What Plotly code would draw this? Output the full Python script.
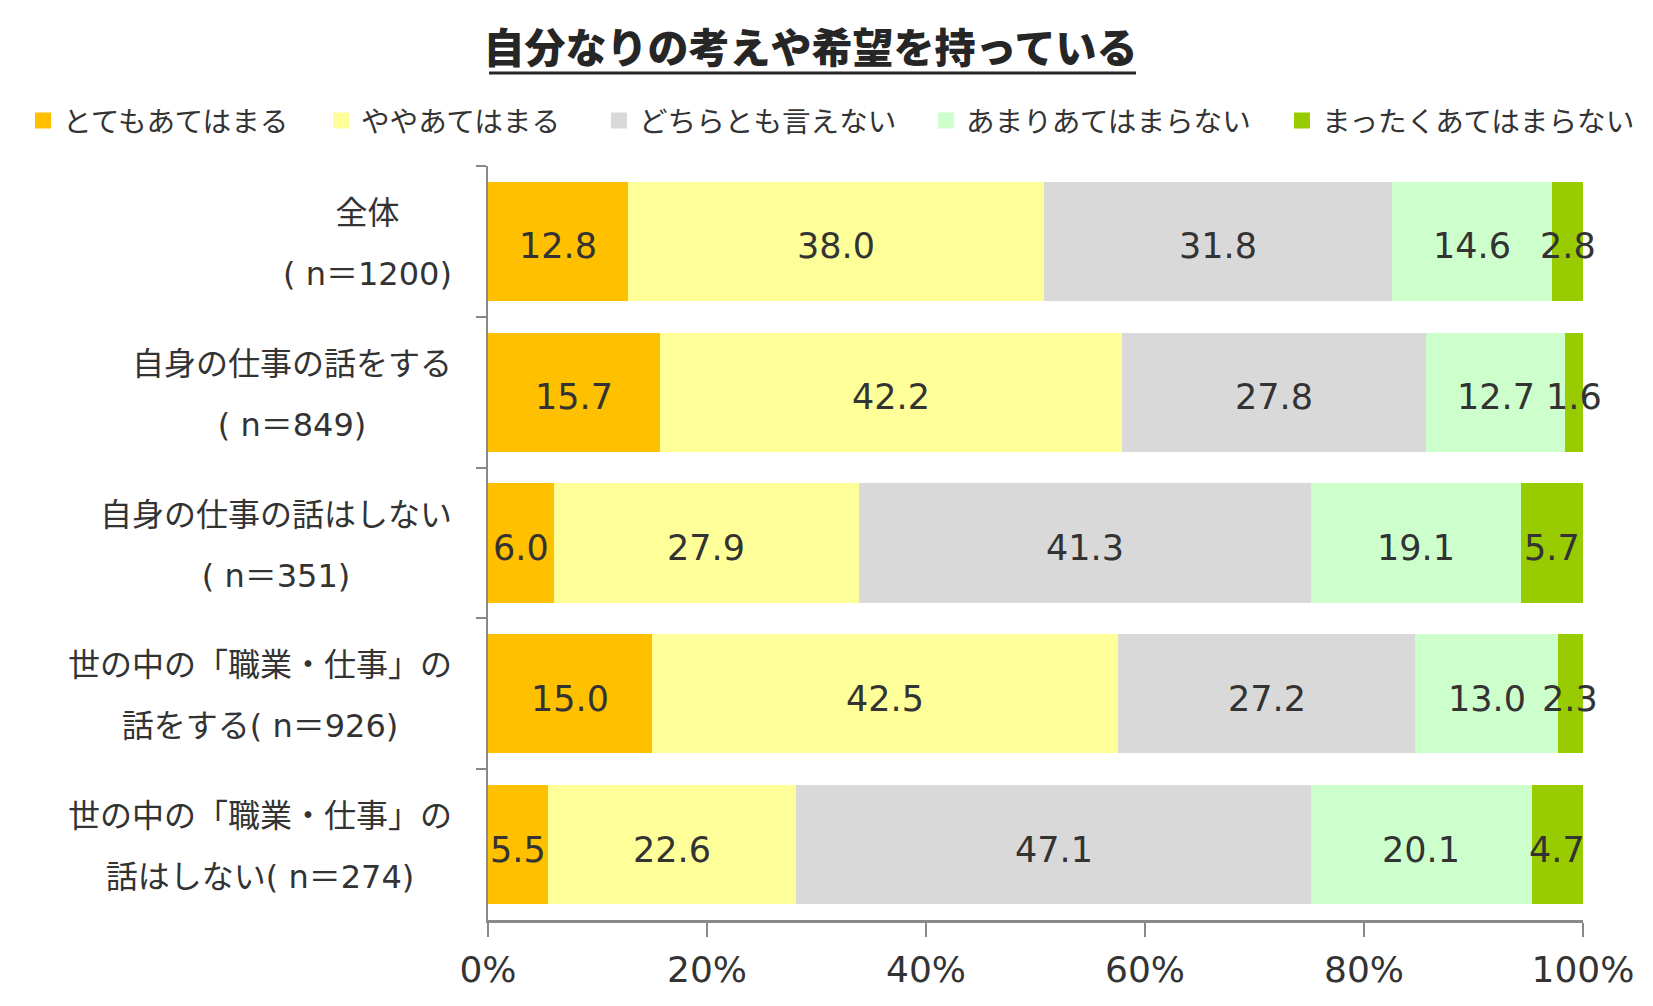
import numpy as np
import plotly.graph_objects as go

categories = [
    "全体<br>( n＝1200)",
    "自身の仕事の話をする<br>( n＝849)",
    "自身の仕事の話はしない<br>( n＝351)",
    "世の中の「職業・仕事」の<br>話をする( n＝926)",
    "世の中の「職業・仕事」の<br>話はしない( n＝274)",
]
series_names = ["とてもあてはまる", "ややあてはまる", "どちらとも言えない", "あまりあてはまらない", "まったくあてはまらない"]
very_true = [12.8, 15.7, 6.0, 15.0, 5.5]
somewhat_true = [38.0, 42.2, 27.9, 42.5, 22.6]
neutral = [31.8, 27.8, 41.3, 27.2, 47.1]
not_really = [14.6, 12.7, 19.1, 13.0, 20.1]
not_at_all = [2.8, 1.6, 5.7, 2.3, 4.7]
tick_values = [0, 20, 40, 60, 80, 100]
tick_labels = ["0%", "20%", "40%", "60%", "80%", "100%"]

colors = ["#FFC000", "#FFFF99", "#D9D9D9", "#CCFFCC", "#99CC00"]
series_values = [very_true, somewhat_true, neutral, not_really, not_at_all]

FONT = "DejaVu Sans, Noto Sans CJK JP, sans-serif"
JP = "Noto Sans CJK JP, sans-serif"
TXT = "#333333"

cat_keys = [c.replace("<br>", " ") for c in categories]

L, R, T, B = 480, 78, 158, 94
W, H = 1653, 1006
PW, PH = W - L - R, H - T - B

fig = go.Figure()
for name, vals, col in zip(series_names, series_values, colors):
    fig.add_trace(go.Bar(
        x=vals, y=cat_keys, orientation="h", name=name,
        marker=dict(color=col, line=dict(width=0)),
        showlegend=False, hoverinfo="skip",
    ))

# legend entries (one small legend per entry so they sit in one row)
legend_x_px = [15, 313, 591, 918, 1274]
legend_layouts = {}
for i, (name, col) in enumerate(zip(series_names, colors)):
    lg = "legend" if i == 0 else f"legend{i + 1}"
    fig.add_trace(go.Scatter(
        x=[None], y=[None], mode="markers", name=name, legend=lg,
        marker=dict(symbol="square", size=20, color=col),
        showlegend=True, hoverinfo="skip",
    ))
    legend_layouts[lg] = dict(
        orientation="h", xref="container", yref="container",
        x=legend_x_px[i] / W, y=1 - 113 / H, xanchor="left", yanchor="middle",
        font=dict(family=JP, size=28.6, color=TXT), itemwidth=30,
        bgcolor="rgba(0,0,0,0)",
    )

annotations = []
# value labels centred on each stacked segment
arr = np.array(series_values, dtype=float)
ends = np.cumsum(arr, axis=0)
mids = ends - arr / 2
for i, vals in enumerate(series_values):
    for j, (key, v) in enumerate(zip(cat_keys, vals)):
        annotations.append(dict(
            x=mids[i][j], y=key, xref="x", yref="y", text=f"{v:.1f}",
            showarrow=False, xanchor="center", yanchor="middle", yshift=-5,
            font=dict(family=FONT, size=35, color=TXT),
        ))

for key, lab in zip(cat_keys, categories):
    lines = lab.split("<br>")
    txt = "<br>".join(f"<span style='font-size:32px'>{l}</span>" for l in lines)
    annotations.append(dict(
        x=0, xref="paper", y=key, yref="y", xanchor="right", yanchor="middle",
        xshift=-34, yshift=-2, text=txt, showarrow=False, align="center",
        font=dict(family=FONT, size=47, color=TXT),
    ))

fig.update_layout(
    width=W, height=H,
    paper_bgcolor="white", plot_bgcolor="white",
    barmode="stack", bargap=0.21,
    margin=dict(l=L, r=R, t=T, b=B),
    title=dict(text="自分なりの考えや希望を持っている", x=0.4855, xanchor="center",
               y=0.96, yanchor="middle", yref="container",
               font=dict(family=JP, size=41, color="#262626", weight=900)),
    annotations=annotations,
    showlegend=True,
    **legend_layouts,
)
ul_y = 1 + (T - 65) / PH
fig.add_shape(type="line", xref="paper", yref="paper",
              x0=(481 - L) / PW, x1=(1128 - L) / PW, y0=ul_y, y1=ul_y,
              line=dict(color="#262626", width=3))

fig.update_xaxes(range=[0, 100], tickvals=tick_values, ticktext=tick_labels,
                 showgrid=False, zeroline=False, showline=True, linecolor="#898989", linewidth=3,
                 ticks="outside", ticklen=14, tickwidth=2, tickcolor="#898989",
                 tickfont=dict(family=FONT, size=36, color=TXT), ticklabelstandoff=2)
fig.update_yaxes(type="category", categoryorder="array", categoryarray=cat_keys,
                 autorange="reversed", showticklabels=False, showgrid=False,
                 showline=True, linecolor="#898989", linewidth=2,
                 ticks="outside", tickson="boundaries", ticklen=10, tickwidth=2, tickcolor="#898989")

fig.write_html("out.html")
